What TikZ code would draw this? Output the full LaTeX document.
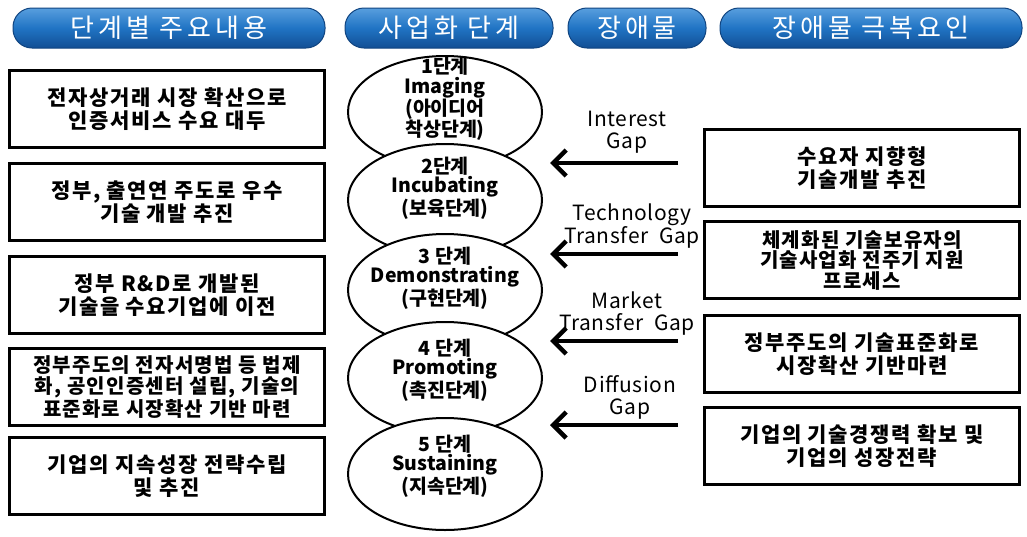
\documentclass[tikz,border=0pt]{standalone}
\usepackage{fontspec}
\setmainfont{Noto Sans CJK KR}
\usetikzlibrary{shapes.geometric,arrows.meta,positioning}

\definecolor{pilltop}{RGB}{88,158,222}
\definecolor{pillmid}{RGB}{32,116,196}
\definecolor{pillbot}{RGB}{18,78,148}
\definecolor{pilledge}{RGB}{16,68,128}

\newcommand{\headfont}{\fontsize{26}{28}\selectfont\addfontfeature{LetterSpace=15}}
\newcommand{\boxfont}{\fontsize{21}{23}\selectfont\bfseries\addfontfeature{LetterSpace=8}}
\newcommand{\tightboxfont}{\fontsize{20}{20.5}\selectfont\bfseries\addfontfeature{LetterSpace=6}}
\newcommand{\stagefont}{\fontsize{19.5}{19.5}\selectfont\bfseries}
\newcommand{\gapfont}{\fontsize{21}{22}\selectfont\addfontfeature{LetterSpace=3}}

\tikzset{
	header/.style={rounded corners=19pt, top color=pilltop, bottom color=pillbot,
		middle color=pillmid, draw=pilledge, line width=1pt, minimum height=40pt,
		text=white, font=\headfont, inner sep=0pt},
	infobox/.style={draw, line width=2.4pt, fill=white, minimum width=315pt,
		minimum height=77pt, align=center, font=\boxfont, inner sep=0pt},
	stage/.style={ellipse, draw, line width=2pt, fill=white, minimum width=194pt,
		minimum height=112pt, inner sep=0pt},
	stagetext/.style={align=center, font=\stagefont, inner sep=0pt},
	gaplabel/.style={align=center, font=\gapfont, inner sep=0pt},
	gaparrow/.style={line width=4.5pt, -{Straight Barb[length=13pt,width=26pt]}}
}

\begin{document}
\begin{tikzpicture}[x=1pt,y=-1pt]
		\useasboundingbox (0,0) rectangle (1027,536);

		% Column headers
		\node[header, minimum width=312pt] (h1) at (169,28) {단계별 주요내용};
		\node[header, minimum width=208pt] (h2) at (449,28) {사업화 단계};
		\node[header, minimum width=138pt] (h3) at (637,28) {장애물};
		\node[header, minimum width=302pt] (h4) at (871,28) {장애물 극복요인};

		% Main contents of each stage (left column)
		\node[infobox] (l1) at (167,109) {전자상거래 시장 확산으로\\인증서비스 수요 대두};
		\node[infobox] (l2) at (167,202) {정부, 출연연 주도로 우수\\기술 개발 추진};
		\node[infobox] (l3) at (167,295) {정부 R\&D로 개발된\\기술을 수요기업에 이전};
		\node[infobox, font=\tightboxfont] (l4) at (167,387)
			{정부주도의 전자서명법 등 법제\\화, 공인인증센터 설립, 기술의\\표준화로 시장확산 기반 마련};
		\node[infobox] (l5) at (167,476) {기업의 지속성장 전략수립\\및 추진};

		% Commercialization stages, each one overlapping the previous
		\foreach \yc/\yt/\txt [count=\i] in {
			112/99/{1단계\\Imaging\\(아이디어\\착상단계)},
			200/188/{2단계\\Incubating\\(보육단계)},
			290/278/{3 단계\\Demonstrating\\(구현단계)},
			378/370/{4 단계\\Promoting\\(촉진단계)},
			474/466/{5 단계\\Sustaining\\(지속단계)}} {
			\node[stage] (s\i) at (445,\yc) {};
			\node[stagetext] (t\i) at (445,\yt) {\txt};
		}

		% Gaps between the stages
		\node[gaplabel] (g1) at (627,132) {Interest\\Gap};
		\node[gaplabel] (g2) at (632,226) {Technology\\Transfer~~Gap};
		\node[gaplabel] (g3) at (627,314) {Market\\Transfer~~Gap};
		\node[gaplabel] (g4) at (630,397) {Diffusion\\Gap};
		\foreach \y [count=\i] in {163,254,341,425} {
			\coordinate (ga\i) at (678,\y);
			\coordinate (gb\i) at (550,\y);
			\draw[gaparrow] (ga\i) -- (gb\i);
		}

		% Ways to overcome the gaps (right column)
		\node[infobox] (r1) at (862,168) {수요자 지향형\\기술개발 추진};
		\node[infobox, font=\tightboxfont] (r2) at (862,260)
			{체계화된 기술보유자의\\기술사업화 전주기 지원\\프로세스};
		\node[infobox] (r3) at (862,354) {정부주도의 기술표준화로\\시장확산 기반마련};
		\node[infobox] (r4) at (862,446) {기업의 기술경쟁력 확보 및\\기업의 성장전략};
	\end{tikzpicture}
\end{document}
